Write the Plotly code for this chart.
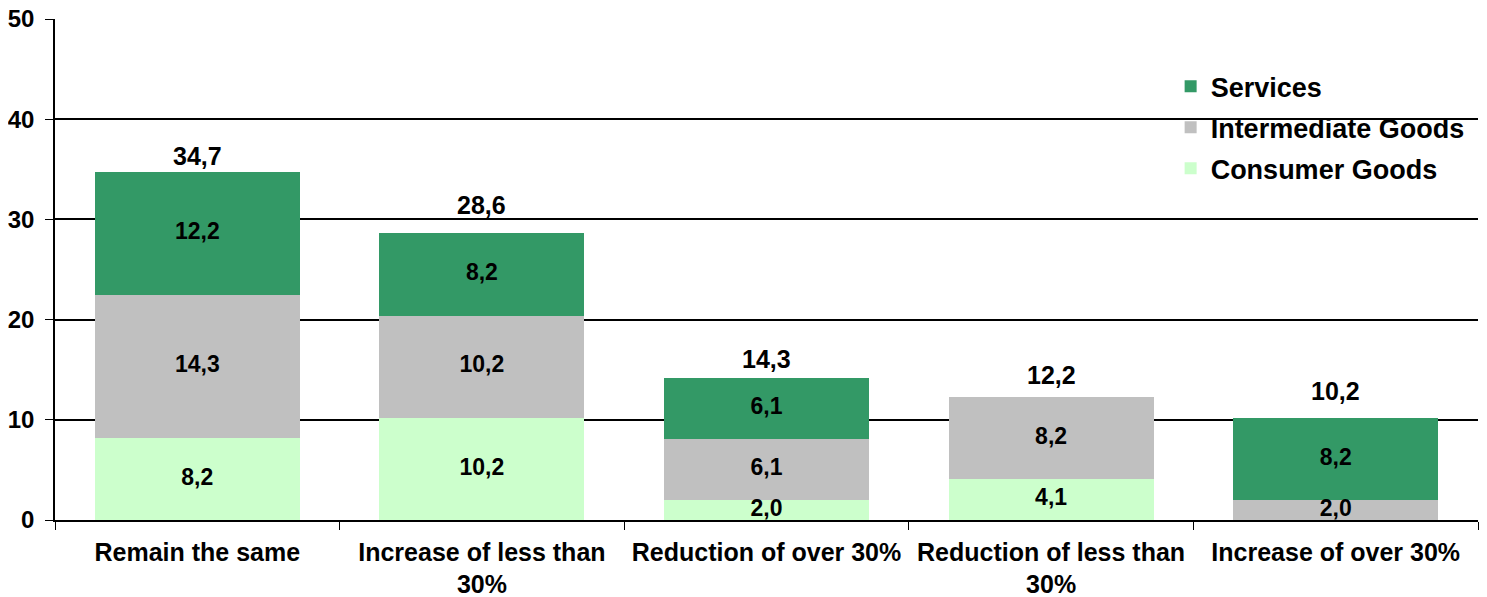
import plotly.graph_objects as go

categories = ["Remain the same", "Increase of less than<br>30%", "Reduction of over 30%",
              "Reduction of less than<br>30%", "Increase of over 30%"]
consumer = [8.2, 10.2, 2.0, 4.1, 0.0]
intermediate = [14.3, 10.2, 6.1, 8.2, 2.0]
services = [12.2, 8.2, 6.1, 0.0, 8.2]
totals = [34.7, 28.6, 14.3, 12.2, 10.2]

# style: pixel gap between each total label and its bar top (as placed in the original)
total_label_gap = [10, 22, 12, 17, 21]

def fmt(v):
    return f"{v:.1f}".replace(".", ",")

FONT = "Liberation Sans, Arial, sans-serif"
fig = go.Figure()
series = [("Consumer Goods", consumer, "#CCFFCC", 3),
          ("Intermediate Goods", intermediate, "#C0C0C0", 2),
          ("Services", services, "#339966", 1)]
for name, vals, col, rank in series:
    fig.add_trace(go.Bar(x=categories, y=vals, name="<b>" + name + "</b>", legendgroup=name,
                         legendrank=rank,
                         marker=dict(color=col, line=dict(width=0)), hoverinfo="skip"))

# segment labels
base = [0.0] * len(categories)
for name, vals, col, rank in series:
    xs, ys, ts = [], [], []
    for i, v in enumerate(vals):
        if v > 0:
            xs.append(categories[i]); ys.append(base[i] + v / 2); ts.append(fmt(v))
        base[i] += v
    fig.add_trace(go.Scatter(x=xs, y=ys, text=ts, mode="text", showlegend=False,
                             textfont=dict(family=FONT, size=23, color="black"),
                             texttemplate="<b>%{text}</b>", hoverinfo="skip"))

for c, t, g in zip(categories, totals, total_label_gap):
    fig.add_annotation(x=c, y=t, text="<b>" + fmt(t) + "</b>", showarrow=False,
                       yanchor="bottom", yshift=g - 10,
                       font=dict(family=FONT, size=25, color="black"))

fig.update_layout(
    barmode="stack", bargap=0.28,
    width=1487, height=597,
    margin=dict(l=47, r=17, t=11, b=85),
    paper_bgcolor="white", plot_bgcolor="white",
    font=dict(family=FONT, color="black"),
    legend=dict(x=0.784, y=0.914, xanchor="left", yanchor="top", traceorder="grouped",
                font=dict(family=FONT, size=27, color="black"), bgcolor="rgba(0,0,0,0)",
                tracegroupgap=3, itemwidth=30),
)
fig.update_xaxes(showline=True, linecolor="black", linewidth=1.5, ticks="outside",
                 tickson="boundaries", ticklen=8, tickcolor="black", automargin=False,
                 ticklabeloverflow="allow", ticklabelstandoff=9,
                 tickfont=dict(family=FONT, size=25, color="black"), tickprefix="<b>", ticksuffix="</b>",
                 showgrid=False)
fig.update_yaxes(range=[0, 50], dtick=10, showline=True, linecolor="black", linewidth=1.5,
                 ticks="outside", ticklen=8, tickcolor="black", showgrid=True, gridcolor="black",
                 gridwidth=1.5, tickfont=dict(family=FONT, size=24, color="black"), automargin=False,
                 ticklabeloverflow="allow", ticklabelstandoff=6,
                 tickprefix="<b>", ticksuffix="</b>", zeroline=False)
fig.write_html("out.html")
